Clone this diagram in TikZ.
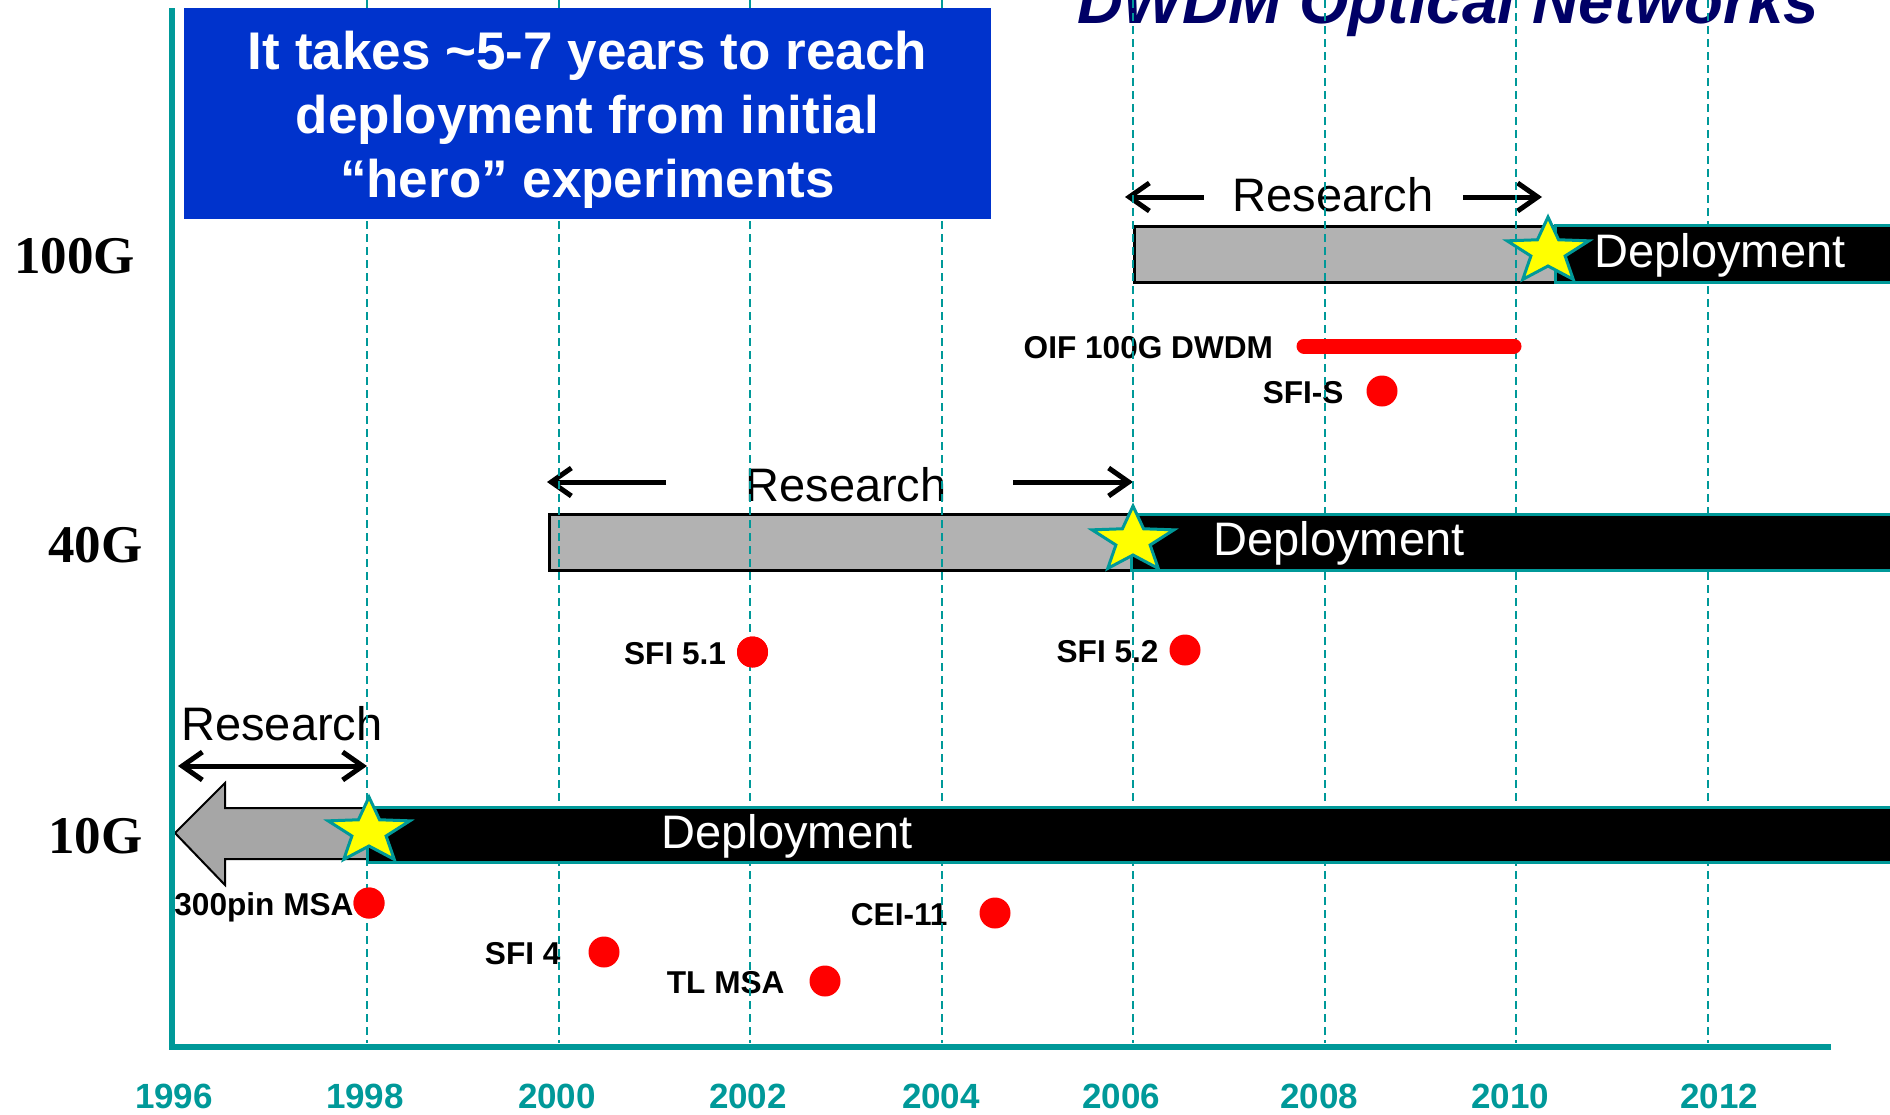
\documentclass[tikz,border=0pt]{standalone}
\usepackage{fontspec}
\setmainfont{Liberation Sans}
\newfontfamily\rowfont{Liberation Serif}
\definecolor{axteal}{HTML}{009999}
\definecolor{dnavy}{HTML}{000066}
\definecolor{bblue}{HTML}{0033CC}
\definecolor{lgrey}{HTML}{B2B2B2}
\definecolor{mgrey}{HTML}{A6A6A6}
\definecolor{dotred}{HTML}{FF0000}
\definecolor{syellow}{HTML}{FFFF00}
\usetikzlibrary{positioning,arrows.meta}

\begin{document}
\begin{tikzpicture}[x=0.5pt,y=-0.5pt,every node/.style={inner sep=0pt,outer sep=0pt},
      title/.style={font=\bfseries\itshape\fontsize{31.8}{36}\selectfont,text=dnavy},
      rowlbl/.style={font=\rowfont\bfseries\fontsize{26.5}{30}\selectfont},
      banner/.style={fill=bblue,minimum width=403.5pt,minimum height=105.5pt},
      bannertext/.style={text=white,font=\bfseries\fontsize{26.5}{32}\selectfont,align=center},
      restext/.style={font=\fontsize{23.5}{28}\selectfont},
      deptext/.style={font=\fontsize{23.5}{28}\selectfont,text=white},
      resarrow/.style={line width=2.5pt,-{Straight Barb[length=10pt,width=14pt]}},
      resboth/.style={line width=2.5pt,{Straight Barb[length=10pt,width=14pt]}-{Straight Barb[length=10pt,width=14pt]}},
      resbar/.style={fill=lgrey,draw=black,line width=1.5pt},
      depbar/.style={fill=black,draw=axteal,line width=1.5pt},
      yearline/.style={axteal,line width=1pt,dash pattern=on 4pt off 2.5pt},
      axisline/.style={axteal,line width=3.2pt},
      milestone/.style={fill=syellow,draw=axteal,line width=1.5pt},
      dot/.style={circle,fill=dotred,minimum size=15.5pt},
      lbl/.style={font=\bfseries\fontsize{15.8}{18}\selectfont,text height=12pt,text depth=0pt},
      yearlbl/.style={font=\bfseries\fontsize{17.5}{20}\selectfont,text=axteal}]
    \useasboundingbox (0,0) rectangle (1890,1114);
    \clip (0,0) rectangle (1890,1114);

    \node[title,anchor=base west] (title) at (1077,23) {DWDM Optical Networks};

    % rows
    \node[rowlbl,anchor=base west] (g100) at (14,273) {100G};
    \node[rowlbl,anchor=base west] (g40) at (48,562) {40G};
    \node[rowlbl,anchor=base west] (g10) at (48,853) {10G};

    % research spans
    \node[restext,anchor=base] (r100) at (1333,211) {Research};
    \node[restext,anchor=base] (r40) at (846,501) {Research};
    \node[restext,anchor=base] (r10) at (282,740) {Research};
    \coordinate (r100a) at (1204,197); \coordinate (r100b) at (1125,197);
    \coordinate (r100c) at (1463,197); \coordinate (r100d) at (1542,197);
    \coordinate (r40a) at (666,482); \coordinate (r40b) at (547,482);
    \coordinate (r40c) at (1013,482); \coordinate (r40d) at (1133,482);
    \coordinate (r10a) at (178,766); \coordinate (r10b) at (367,766);
    \draw[resarrow] (r100a) -- (r100b);
    \draw[resarrow] (r100c) -- (r100d);
    \draw[resarrow] (r40a) -- (r40b);
    \draw[resarrow] (r40c) -- (r40d);
    \draw[resboth] (r10a) -- (r10b);

    \draw[resbar] (1134,226) rectangle (1555,282);
    \draw[resbar] (549.5,514) rectangle (1131,570);
    \draw[fill=mgrey,draw=black,line width=1pt] (175,833) -- (225,783) -- (225,808) -- (367,808)
      -- (367,859) -- (225,859) -- (225,885) -- cycle;

    % standards
    \node[dot] (d300) at (369,903) {};
    \node[dot] (dsfi4) at (604,952) {};
    \node[dot] (dtl) at (825,981) {};
    \node[dot] (dcei) at (995,913) {};
    \node[dot] (d51) at (752.5,652) {};
    \node[dot] (d52) at (1185,650) {};
    \node[dot] (dsfis) at (1382,391) {};
    \coordinate (oifs) at (1304,346); \coordinate (oife) at (1514,346);
    \node[lbl,left=0pt of d300] (l300) {300pin MSA};
    \node[lbl,left=14pt of dsfi4] (lsfi4) {SFI 4};
    \node[lbl,left=12.5pt of dtl] (ltl) {TL MSA};
    \node[lbl,left=16pt of dcei] (lcei) {CEI-11};
    \node[lbl,left=5.5pt of d51] (l51) {SFI 5.1};
    \node[lbl,left=5.5pt of d52] (l52) {SFI 5.2};
    \node[lbl,left=11.5pt of dsfis] (lsfis) {SFI-S};
    \node[lbl,left=15.5pt of oifs] (loif) {OIF 100G DWDM};

    % year grid
    \foreach \yr in {1998,2000,...,2012}
      \draw[yearline] ({367+(\yr-1998)*95.75},0) -- ({367+(\yr-1998)*95.75},1043);

    \node[banner] (notebox) at (587.5,113.5) {};
    \node[bannertext] (note) at (587.5,120) {It takes \textasciitilde5-7 years to reach\\deployment from initial\\“hero” experiments};

    % deployment
    \draw[depbar] (1555,225) rectangle (1910,282);
    \draw[depbar] (1131,514) rectangle (1910,570);
    \draw[depbar] (367,807) rectangle (1910,862);
    \node[deptext,anchor=base] (dep100) at (1720,267) {Deployment};
    \node[deptext,anchor=base] (dep40) at (1339,555.5) {Deployment};
    \node[deptext,anchor=base] (dep10) at (787,848) {Deployment};

    \draw[dotred,line width=7.5pt,line cap=round] (oifs) -- (oife);
    \node[dot] at (d300) {};
    \node[dot] at (d51) {};

    \foreach \sx/\sy in {369/831.5,1133/540.5,1548/251.5}
      \filldraw[milestone] plot[samples at={0,...,9}]
        ({\sx+(43-25*mod(\x,2))*cos(-90+36*\x)},{\sy+(34.5-20*mod(\x,2))*sin(-90+36*\x)}) -- cycle;

    % axes
    \draw[axisline] (172,8) -- (172,1047) -- (1831,1047);
    \foreach \yr/\xx in {1996/174,1998/365,2000/557,2002/748,2004/941,2006/1121,2008/1319,2010/1510,2012/1719}
      \node[yearlbl,anchor=base] (y\yr) at (\xx,1108) {\yr};
  \end{tikzpicture}
\end{document}
